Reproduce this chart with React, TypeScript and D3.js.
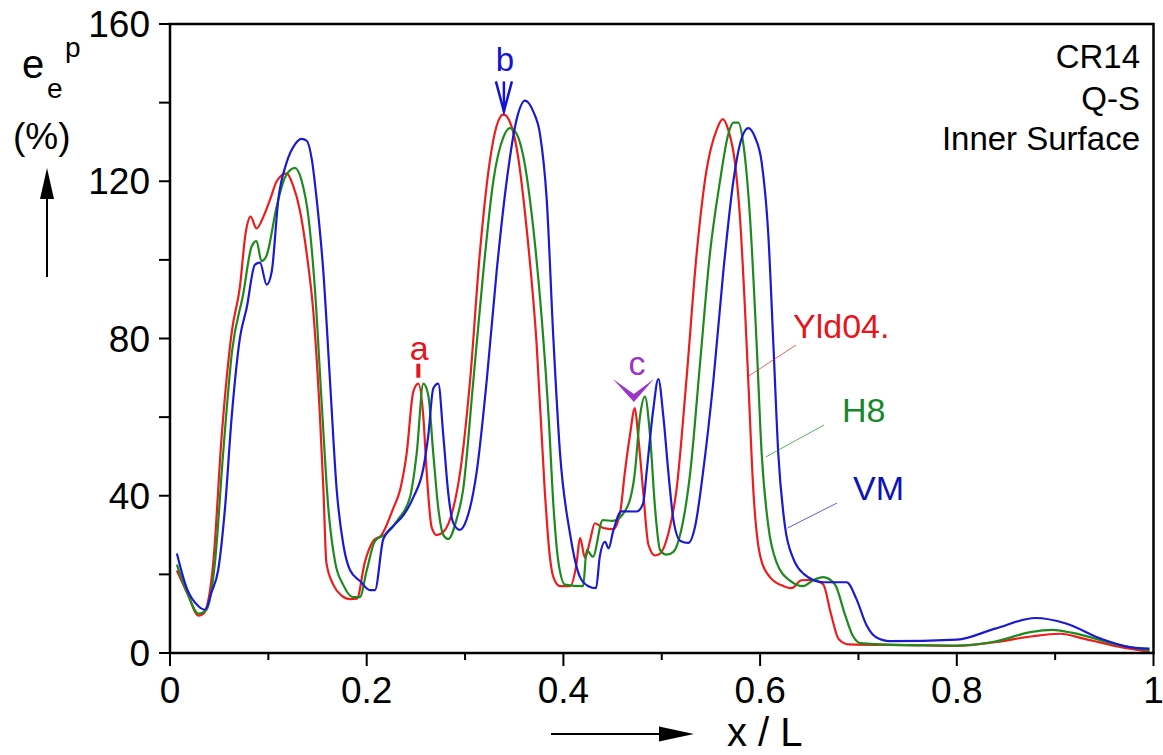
import React from "react";
import * as d3 from "d3";

// ---------- data ----------
const yldX = [0.007,0.018,0.029,0.034,0.044,0.0525,0.063,0.071,0.077,0.082,0.088,0.095,0.102,0.1085,0.1186,0.125,0.132,0.139,0.146,0.1525,0.156,0.159,0.166,0.1745,0.183,0.19,0.198,0.2067,0.215,0.227,0.234,0.2406,0.2474,0.2525,0.2576,0.261,0.266,0.271,0.278,0.288,0.295,0.305,0.315,0.325,0.332,0.339,0.3457,0.3525,0.3626,0.3728,0.381,0.386,0.3898,0.3966,0.4067,0.4135,0.4169,0.422,0.427,0.432,0.4406,0.4507,0.4576,0.4625,0.4676,0.4727,0.476,0.481,0.4864,0.4932,0.498,0.5067,0.515,0.525,0.5355,0.545,0.5557,0.562,0.5677,0.5744,0.5795,0.5846,0.588,0.5931,0.6,0.61,0.624,0.632,0.642,0.652,0.664,0.672,0.68,0.69,0.75,0.8,0.84,0.875,0.905,0.93,0.967,0.996];
const yldY = [21,15,9.5,10,23,55,82,93,107,111,108,111,115.5,120,122,119,112.7,101.6,86,60,41.5,23,17.4,14.6,13.7,13.8,23,28.5,30,36.8,41.5,50.7,66.5,68.5,60,46,32,30,30.8,36.8,46,69,101.6,124.8,134,137,135,128.4,108,78.5,41.5,25,19.3,17,17,23,29.3,24.2,28.5,33,31.8,31.5,35.6,46,55.3,62.3,55.3,41.5,27.6,24.8,25.2,30.4,41.5,69.2,101.6,122,133,135.8,133,124.8,110.9,87.7,69.2,41.5,24.8,19.3,17,16.5,18.5,18.6,17.5,10,3.5,2.2,2,1.8,2.8,4.2,4.9,3.6,1.5,0.3];

const h8X = [0.007,0.018,0.029,0.037,0.0457,0.054,0.063,0.0745,0.083,0.088,0.093,0.098,0.1085,0.117,0.127,0.134,0.1407,0.1474,0.154,0.161,0.168,0.176,0.186,0.193,0.2,0.2084,0.2203,0.232,0.244,0.2508,0.2576,0.2626,0.2677,0.2728,0.278,0.283,0.2914,0.298,0.3084,0.3186,0.3287,0.339,0.3457,0.3525,0.359,0.3694,0.378,0.385,0.39,0.395,0.4017,0.42,0.4237,0.43,0.44,0.4504,0.4643,0.4727,0.4778,0.4829,0.4881,0.4932,0.4983,0.505,0.5118,0.519,0.529,0.539,0.549,0.5592,0.5677,0.5728,0.5778,0.583,0.5897,0.5965,0.6016,0.6084,0.6168,0.6304,0.6438,0.654,0.664,0.676,0.686,0.694,0.702,0.75,0.8,0.84,0.875,0.897,0.918,0.967,0.996];
const h8Y = [22.5,15,10,11,23,50.7,76.6,91.4,103.4,104.8,99.7,101,113.6,121,123.4,120,111,92.4,64.6,36.8,23,17.4,14.2,14.2,21,28.5,30.4,34,39.6,50.7,68.5,65.6,50.7,36.8,30,29,34,41.5,69.2,97,120,131.2,133.5,132,126.6,108,85,60,37,23,17.4,17,26.2,24.5,33.8,33.6,36.8,46,60,65.2,55.3,36.8,26.2,25,25.7,30.4,46,73.9,101.6,120,132,134.9,134.9,129.4,110.9,78.5,50.7,32.2,23,18.4,17,18.5,19.3,17.5,10,4.5,2.5,2,1.9,3,5.3,5.9,5.1,1.9,0.7];

const vmX = [0.007,0.017,0.029,0.0356,0.0424,0.049,0.0559,0.0627,0.0712,0.0779,0.0864,0.0915,0.0983,0.1034,0.1102,0.1186,0.1271,0.1339,0.139,0.1441,0.1491,0.1559,0.1627,0.1695,0.1762,0.183,0.1932,0.2033,0.2084,0.2169,0.227,0.2372,0.2474,0.2576,0.2626,0.2677,0.2728,0.2779,0.283,0.288,0.2948,0.3016,0.3118,0.322,0.3321,0.3423,0.3525,0.361,0.3694,0.3762,0.383,0.3898,0.3966,0.4067,0.4169,0.4254,0.4332,0.437,0.4423,0.446,0.4504,0.459,0.4745,0.481,0.4846,0.4914,0.4965,0.5017,0.5067,0.5118,0.519,0.527,0.534,0.542,0.5524,0.5626,0.5728,0.5795,0.588,0.5948,0.6016,0.6084,0.6135,0.6185,0.6253,0.6338,0.644,0.664,0.688,0.698,0.708,0.718,0.732,0.8,0.839,0.88,0.911,0.947,0.976,0.996];
const vmY = [25.3,16.5,11.9,11,15.6,21.1,36.8,60,80.3,87.7,98.8,99.3,93.7,97,115.5,124.8,129.4,130.8,130.3,125.7,115.5,97,69.2,41.5,27.6,21.1,18.3,16,16,29,32.3,35,39.6,47,55.3,67.3,68.5,55.3,40.5,33.1,31.3,34,46,69.2,97,120,135.8,140.5,137.7,132,115.5,80,50.7,30.4,19.3,17,16.5,24.5,28.3,26.6,30.8,36,36,38,46,62,69.7,60,46,34,28.5,28,32.3,46,69,97,120,129.4,133.5,131.2,124.8,106.2,78.5,50.7,32.2,24,20.2,18,18,13.7,7.2,4,3,3.4,6.2,8.9,7.5,3.6,1.5,1.1];

const seriesNames = ["Yld04.", "H8", "VM"];
const lineColors = ["#ee1c1c", "#1e8a1e", "#1a1ad2"];
const textColors = ["#e8141c", "#16882a", "#0c14b8"];
// where each leader line touches its curve (data x, y)
const leaderX = [0.5887, 0.606, 0.628];
const leaderY = [70.5, 49.9, 31.8];

const yTicks = [0, 20, 40, 60, 80, 100, 120, 140, 160];
const yLabels = [0, 40, 80, 120, 160];
const xTicks = [0, 0.1, 0.2, 0.3, 0.4, 0.5, 0.6, 0.7, 0.8, 0.9, 1];
const xLabels = ["0", "0.2", "0.4", "0.6", "0.8", "1"];
const infoLines = ["CR14", "Q-S", "Inner Surface"];

// annotation anchors (data coords of the peaks they point at)
const annA = { x: 0.2525, y: 68.5 };
const annB = { x: 0.3395, y: 137 };
const annC = { x: 0.4727, y: 62.3 };

const FONT = "'Liberation Sans', Arial, sans-serif";

export default function App() {
  const W = 1163, H = 755;
  const x = d3.scaleLinear().domain([0, 1]).range([170, 1153.5]);
  const y = d3.scaleLinear().domain([0, 160]).range([653, 24]);
  const line = d3.line<[number, number]>().x(d => x(d[0])).y(d => y(d[1])).curve(d3.curveMonotoneX);

  const series = [
    yldX.map((v, i) => [v, yldY[i]] as [number, number]),
    h8X.map((v, i) => [v, h8Y[i]] as [number, number]),
    vmX.map((v, i) => [v, vmY[i]] as [number, number]),
  ];

  const labelPos = [
    { lx: 796, ly: 345, tx: 793, ty: 338 },
    { lx: 824, ly: 425, tx: 842, ty: 422 },
    { lx: 837, ly: 503, tx: 853, ty: 500 },
  ];

  const ax = x(annA.x), ay = y(annA.y);
  const bx = x(annB.x), by = y(annB.y);
  const cx = x(annC.x), cy = y(annC.y);

  return (
    <svg width={W} height={H} style={{ position: "absolute", left: 0, top: 0, background: "#fff" }} fontFamily={FONT}>
      <rect x={0} y={0} width={W} height={H} fill="#fff" />
      {/* curves */}
      {series.map((s, i) => (
        <path key={i} d={line(s) || ""} fill="none" stroke={lineColors[i]} strokeWidth={2.2} strokeLinejoin="round" />
      ))}
      {/* frame */}
      <rect x={x(0)} y={y(160)} width={x(1) - x(0)} height={y(0) - y(160)} fill="none" stroke="#000" strokeWidth={2.5} />
      {/* y ticks */}
      {yTicks.map(t => (
        <line key={"yt" + t} x1={x(0) - 11} x2={x(0)} y1={y(t)} y2={y(t)} stroke="#000" strokeWidth={2} />
      ))}
      {yLabels.map(t => (
        <text key={"yl" + t} x={x(0) - 20} y={y(t) + 13} fontSize={37} textAnchor="end" fill="#000">{t}</text>
      ))}
      {/* x ticks */}
      {xTicks.map((t, i) => (
        <line key={"xt" + i} x1={x(t)} x2={x(t)} y1={y(0)} y2={y(0) + (i % 2 === 0 ? 13 : 7)} stroke="#000" strokeWidth={2} />
      ))}
      {xLabels.map((l, i) => (
        <text key={"xl" + i} x={x(i * 0.2)} y={703} fontSize={37} textAnchor="middle" fill="#000">{l}</text>
      ))}
      {/* y axis title */}
      <text x={22} y={78} fontSize={40} fill="#000">e</text>
      <text x={47} y={98} fontSize={28} fill="#000">e</text>
      <text x={65} y={57} fontSize={28} fill="#000">p</text>
      <text x={13} y={149} fontSize={37} fill="#000">(%)</text>
      <line x1={47} x2={47} y1={277} y2={190} stroke="#000" strokeWidth={2} />
      <polygon points="47,168 40,199 54,199" fill="#000" />
      {/* x axis title */}
      <line x1={551} x2={665} y1={734} y2={734} stroke="#000" strokeWidth={2} />
      <polygon points="694,734 659,726.5 659,741.5" fill="#000" />
      <text x={727} y={746} fontSize={40} fill="#000">x / L</text>
      {/* info text */}
      {infoLines.map((t, i) => (
        <text key={t} x={1140} y={[68, 110, 150][i]} fontSize={33} textAnchor="end" fill="#000">{t}</text>
      ))}
      {/* series labels with leader lines */}
      {seriesNames.map((n, i) => (
        <g key={n}>
          <line x1={x(leaderX[i])} y1={y(leaderY[i])} x2={labelPos[i].lx} y2={labelPos[i].ly} stroke={lineColors[i]} strokeWidth={1} opacity={0.7} />
          <text x={labelPos[i].tx} y={labelPos[i].ty} fontSize={34} fill={textColors[i]}>{n}</text>
        </g>
      ))}
      {/* annotation a */}
      <text x={ax + 1} y={ay - 24} fontSize={34} textAnchor="middle" fill="#e8141c">a</text>
      <line x1={ax} x2={ax} y1={ay - 20} y2={ay - 6} stroke="#e8141c" strokeWidth={4} />
      {/* annotation b */}
      <text x={bx + 1} y={by - 43} fontSize={33} textAnchor="middle" fill="#1414d0">b</text>
      <line x1={bx} x2={bx} y1={by - 33} y2={by - 3} stroke="#1414d0" strokeWidth={2.5} />
      <path d={`M${bx - 8},${by - 33} L${bx},${by - 3} L${bx + 8},${by - 33}`} fill="none" stroke="#1414d0" strokeWidth={2.5} />
      {/* annotation c */}
      <text x={cx + 2} y={cy - 33} fontSize={34} textAnchor="middle" fill="#9a35c8">c</text>
      <polygon points={`${cx - 22},${cy - 29} ${cx - 1},${cy - 14} ${cx + 19},${cy - 29} ${cx - 1},${cy - 6}`} fill="#9a35c8" />
    </svg>
  );
}
